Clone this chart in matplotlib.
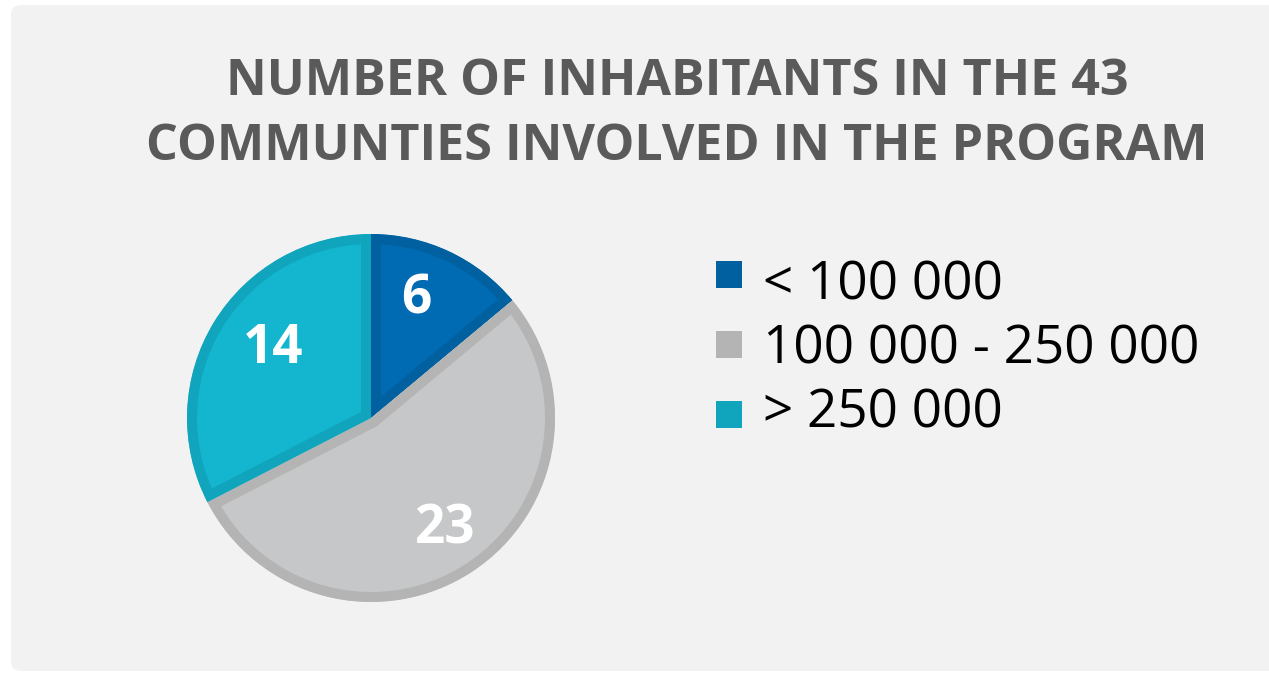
import matplotlib
matplotlib.use("Agg")
import matplotlib.pyplot as plt
from matplotlib.patches import FancyBboxPatch, Rectangle

title_lines = ["NUMBER OF INHABITANTS IN THE 43", "COMMUNTIES INVOLVED IN THE PROGRAM"]
categories = ["< 100 000", "100 000 - 250 000", "> 250 000"]
values = [6, 23, 14]
fill_colors = ["#006bb2", "#c6c7c8", "#13b5cf"]
edge_colors = ["#0060a0", "#b3b4b3", "#10a5bd"]

W, H = 1269, 673
fig = plt.figure(figsize=(W / 100, H / 100), dpi=100)
fig.patch.set_facecolor("white")

def px(p):
    return p * 0.72

# background panel
bg = fig.add_axes([0, 0, 1, 1])
bg.set_xlim(0, W)
bg.set_ylim(H, 0)
bg.axis("off")
bg.add_patch(FancyBboxPatch((11, 5), W + 40, 666, boxstyle="round,pad=0,rounding_size=10",
                            facecolor="#f2f2f2", edgecolor="none"))

for line, y in zip(title_lines, [95, 160]):
    bg.text(677, y, line, ha="center", va="baseline", fontsize=px(50.2),
            fontweight="bold", family="Open Sans", color="#5a5a5a")

# legend
square_y = [274.5, 344.5, 414.5]
text_base = [299, 363, 427]
for cat, ec, sy, tb in zip(categories, edge_colors, square_y, text_base):
    bg.add_patch(Rectangle((716, sy - 13.5), 26, 27, facecolor=ec, edgecolor="none"))
    bg.text(763, tb, cat, ha="left", va="baseline", fontsize=px(53),
            family="Open Sans", color="black")

# pie (full-figure axes, 1 data unit = 1 pixel, y upwards)
ax = fig.add_axes([0, 0, 1, 1])
ax.patch.set_alpha(0)
cx, cy, r = 371, 418, 184
wedges, _ = ax.pie(values, colors=fill_colors, startangle=90, counterclock=False,
                   radius=r, center=(cx, H - cy), frame=True)
ax.set_xlim(0, W)
ax.set_ylim(0, H)
ax.set_aspect("auto")
ax.axis("off")
for w, ec in zip(wedges, edge_colors):
    w.set_edgecolor(ec)
    w.set_linewidth(px(20))
    w.set_clip_on(True)
    w.set_clip_path(w)

# value labels on top
label_pos = [(416, 300), (445, 529), (273, 349)]
for v, (x, y) in zip(values, label_pos):
    ax.text(x, H - y, str(v), ha="center", va="center", fontsize=px(53), fontweight="bold",
            family="Open Sans", color="white", zorder=5)

fig.savefig("out.png", dpi=100, facecolor="white")
